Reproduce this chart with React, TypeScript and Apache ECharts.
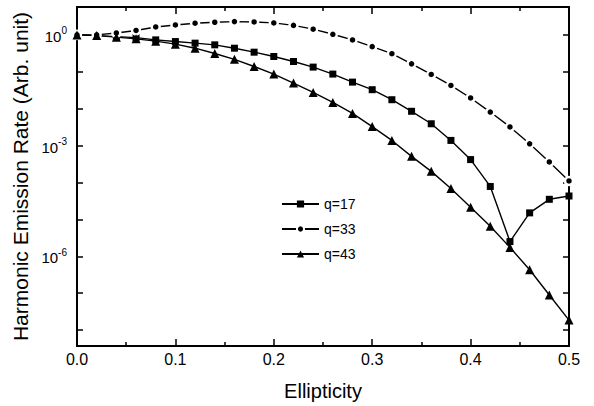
import React, { useEffect, useRef } from "react";
import * as echarts from "echarts";

const ellipticity = [0, 0.02, 0.04, 0.06, 0.08, 0.1, 0.12, 0.14, 0.16, 0.18, 0.2, 0.22, 0.24, 0.26, 0.28, 0.3, 0.32, 0.34, 0.36, 0.38, 0.4, 0.42, 0.44, 0.46, 0.48, 0.5];
const q17 = [1, 0.957, 0.9, 0.845, 0.733, 0.66, 0.597, 0.537, 0.436, 0.34, 0.26, 0.19, 0.134, 0.0867, 0.0525, 0.0327, 0.0175, 0.0085, 0.0039, 0.00138, 0.000417, 7.8e-5, 2.5e-6, 1.5e-5, 3.5e-5, 4.3e-5];
const q33 = [1, 1, 1.13, 1.32, 1.64, 1.86, 2.07, 2.2, 2.29, 2.24, 2.11, 1.81, 1.43, 1.04, 0.73, 0.48, 0.31, 0.164, 0.0845, 0.0427, 0.0195, 0.0081, 0.0032, 0.00112, 0.00036, 0.00011];
const q43 = [1, 0.957, 0.867, 0.78, 0.676, 0.561, 0.436, 0.313, 0.218, 0.139, 0.0867, 0.0495, 0.0275, 0.0148, 0.00746, 0.00327, 0.00138, 0.00051, 0.0002, 6.9e-5, 2.14e-5, 6.5e-6, 1.74e-6, 4.3e-7, 8.9e-8, 1.86e-8];
const seriesNames = ["q=17", "q=33", "q=43"];
const yLabelExponents = [0, -3, -6];

const FONT = "Liberation Sans, Arial, Helvetica, sans-serif";
const INK = "#000";

export default function App() {
  const ref = useRef<HTMLDivElement>(null);
  useEffect(() => {
    if (!ref.current) return;
    const chart = echarts.init(ref.current, null, { renderer: "svg" });
    const pair = (ys: number[]) => ellipticity.map((x, i) => [x, ys[i]]);
    const axisLine = () => ({ show: false, onZero: false });
    const tick = (len: number) => ({ show: true, inside: true, length: len, lineStyle: { color: INK, width: 1.5 } });
    const minor = () => ({ show: true, splitNumber: 2, length: 4, lineStyle: { color: INK, width: 1.5 } });
    const yFormatter = (v: number) => {
      const e = Math.log10(v);
      const r = Math.round(e);
      if (Math.abs(e - r) < 1e-6 && yLabelExponents.indexOf(r) >= 0) {
        return "{b|10}{s|" + r + "}";
      }
      return "";
    };
    const common = { type: "line", lineStyle: { color: "#000", width: 1.4 } };
    chart.setOption({
      animation: false,
      backgroundColor: "#fff",
      textStyle: { fontFamily: FONT },
      grid: { left: 77, right: 25, top: 7, bottom: 59, show: true, borderColor: "#000", borderWidth: 2, backgroundColor: "transparent" },
      legend: {
        orient: "vertical", left: 276, top: 192, itemWidth: 37, itemHeight: 9, itemGap: 11,
        textStyle: { fontSize: 14, color: "#000", fontFamily: FONT }, data: seriesNames,
      },
      xAxis: [
        {
          type: "value", min: 0, max: 0.5, interval: 0.1, position: "bottom",
          axisLine: axisLine(), axisTick: tick(7), minorTick: minor(),
          splitLine: { show: false }, minorSplitLine: { show: false },
          axisLabel: { fontSize: 16, color: "#000", margin: 5, formatter: (v: number) => v.toFixed(1) },
          name: "Ellipticity", nameLocation: "middle", nameGap: 35,
          nameTextStyle: { fontSize: 20, color: "#000", fontFamily: FONT },
        },
        {
          type: "value", min: 0, max: 0.5, interval: 0.1, position: "top",
          axisLine: axisLine(), axisTick: tick(7), minorTick: minor(),
          splitLine: { show: false }, minorSplitLine: { show: false }, axisLabel: { show: false },
        },
      ],
      yAxis: [
        {
          type: "log", logBase: 10, min: 3.7e-9, max: 5.7, splitNumber: 10, position: "left",
          axisLine: axisLine(), axisTick: tick(6), splitLine: { show: false },
          axisLabel: {
            color: "#000", margin: 10, formatter: yFormatter,
            rich: {
              b: { fontSize: 15, color: "#000", fontFamily: FONT, lineHeight: 18, verticalAlign: "bottom" },
              s: { fontSize: 10, color: "#000", fontFamily: FONT, verticalAlign: "top" },
            },
          },
          name: "Harmonic Emission Rate (Arb. unit)", nameLocation: "middle", nameGap: 43,
          nameTextStyle: { fontSize: 21, color: "#000", fontFamily: FONT },
        },
        {
          type: "log", logBase: 10, min: 3.7e-9, max: 5.7, splitNumber: 10, position: "right",
          axisLine: axisLine(), axisTick: tick(6), splitLine: { show: false }, axisLabel: { show: false },
        },
      ],
      series: [
        { ...common, name: seriesNames[0], data: pair(q17), symbol: "rect", symbolSize: 7, itemStyle: { color: "#000" } },
        { ...common, name: seriesNames[1], data: pair(q33), symbol: "circle", symbolSize: 8, itemStyle: { color: "#000", borderColor: "#fff", borderWidth: 2.5 } },
        { ...common, name: seriesNames[2], data: pair(q43), symbol: "triangle", symbolSize: 9, itemStyle: { color: "#000" } },
      ],
    });
    return () => chart.dispose();
  }, []);
  return <div ref={ref} style={{ position: "absolute", left: 0, top: 0, width: 594, height: 406 }} />;
}
